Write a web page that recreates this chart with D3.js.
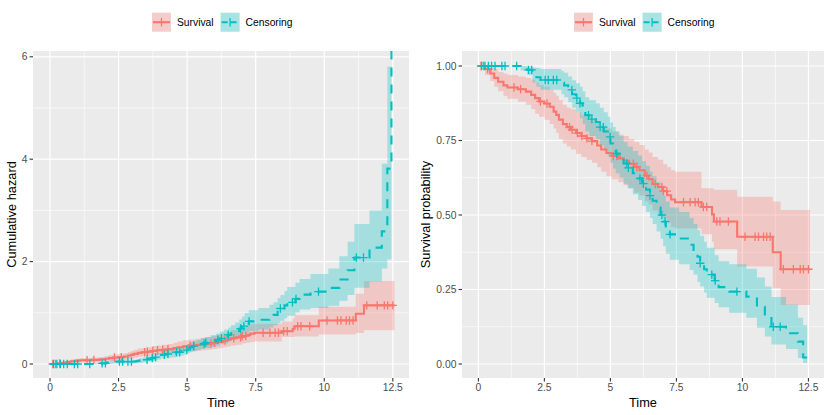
<!DOCTYPE html>
<html>
<head>
<meta charset="utf-8">
<script src="https://cdn.jsdelivr.net/npm/d3@7"></script>
<style>
  body { margin: 0; background: #fff; }
  text { font-family: "Liberation Sans", Arial, Helvetica, sans-serif; }
</style>
</head>
<body>
<svg id="chart" width="830" height="415"></svg>
<script>
// Kaplan-Meier estimates (step times, estimate, 95% band)
var groupNames = ['Survival', 'Censoring'];

var survTime  = [0, 0.25, 0.45, 0.6, 0.75, 0.95, 1.1, 1.5, 1.8, 2.0, 2.15, 2.3, 2.5, 2.7, 2.85, 2.95, 3.05, 3.2, 3.35, 3.5, 3.7, 3.9, 4.1, 4.3, 4.5, 4.65, 4.85, 5.05, 5.3, 5.5, 5.7, 5.9, 6.1, 6.3, 6.45, 6.6, 6.8, 7.0, 7.15, 7.3, 7.45, 8.45, 8.85, 8.92, 9.8, 11.15, 11.45];
var survEst   = [1, 0.99, 0.975, 0.96, 0.947, 0.935, 0.928, 0.922, 0.914, 0.903, 0.892, 0.881, 0.874, 0.863, 0.847, 0.836, 0.82, 0.805, 0.795, 0.786, 0.775, 0.765, 0.757, 0.748, 0.733, 0.72, 0.708, 0.698, 0.69, 0.682, 0.672, 0.661, 0.65, 0.632, 0.62, 0.604, 0.594, 0.58, 0.566, 0.552, 0.543, 0.527, 0.502, 0.478, 0.427, 0.375, 0.318];
var survLower = [1, 0.97, 0.95, 0.93, 0.915, 0.9, 0.89, 0.88, 0.87, 0.855, 0.84, 0.83, 0.82, 0.805, 0.79, 0.775, 0.755, 0.74, 0.73, 0.72, 0.705, 0.695, 0.685, 0.675, 0.66, 0.645, 0.63, 0.62, 0.61, 0.6, 0.59, 0.575, 0.565, 0.545, 0.535, 0.515, 0.505, 0.49, 0.475, 0.46, 0.455, 0.435, 0.41, 0.385, 0.327, 0.254, 0.198];
var survUpper = [1, 1, 0.995, 0.99, 0.98, 0.975, 0.97, 0.965, 0.96, 0.955, 0.945, 0.935, 0.93, 0.92, 0.91, 0.9, 0.885, 0.87, 0.86, 0.855, 0.845, 0.835, 0.83, 0.82, 0.81, 0.8, 0.79, 0.78, 0.77, 0.765, 0.755, 0.745, 0.735, 0.72, 0.71, 0.695, 0.685, 0.67, 0.66, 0.65, 0.645, 0.59, 0.59, 0.585, 0.561, 0.545, 0.517];
var survEnd = 12.56;
var survCensor = [0.1, 0.2, 0.35, 1.35, 1.6, 2.35, 2.6, 3.45, 3.55, 3.75, 3.92, 4.11, 4.3, 5.11, 5.24, 5.87, 6.0, 6.38, 6.7, 6.95, 7.01, 7.14, 7.77, 8.02, 8.21, 8.33, 8.52, 8.65, 9.03, 9.15, 9.47, 10.1, 10.48, 10.61, 10.8, 10.92, 11.05, 11.55, 11.93, 12.19, 12.31, 12.5];

var censTime  = [0, 1.6, 1.85, 2.05, 2.2, 2.35, 3.15, 3.25, 3.4, 3.55, 3.7, 3.85, 3.95, 4.05, 4.2, 4.45, 4.6, 4.75, 4.9, 5.0, 5.1, 5.2, 5.35, 5.5, 5.65, 5.85, 6.05, 6.2, 6.35, 6.5, 6.6, 6.75, 6.9, 7.0, 7.1, 7.25, 7.6, 8.0, 8.15, 8.3, 8.4, 8.55, 8.65, 8.95, 9.1, 9.5, 10.15, 10.55, 10.85, 11.1, 11.65, 12.1, 12.3];
var censEst   = [1, 0.994, 0.987, 0.972, 0.962, 0.953, 0.944, 0.935, 0.92, 0.905, 0.892, 0.875, 0.86, 0.835, 0.822, 0.812, 0.795, 0.78, 0.762, 0.74, 0.722, 0.706, 0.69, 0.673, 0.658, 0.64, 0.623, 0.605, 0.585, 0.565, 0.548, 0.525, 0.5, 0.478, 0.455, 0.435, 0.421, 0.4, 0.383, 0.36, 0.338, 0.318, 0.3, 0.28, 0.258, 0.243, 0.226, 0.192, 0.16, 0.125, 0.103, 0.075, 0.022];
var censLower = [1, 0.985, 0.97, 0.945, 0.93, 0.92, 0.905, 0.895, 0.878, 0.86, 0.845, 0.825, 0.805, 0.78, 0.765, 0.755, 0.735, 0.72, 0.7, 0.675, 0.655, 0.64, 0.625, 0.605, 0.59, 0.57, 0.55, 0.53, 0.51, 0.49, 0.47, 0.445, 0.42, 0.395, 0.37, 0.35, 0.335, 0.315, 0.3, 0.275, 0.26, 0.24, 0.222, 0.205, 0.19, 0.172, 0.155, 0.122, 0.092, 0.065, 0.05, 0.02, 0.003];
var censUpper = [1, 1, 0.998, 0.995, 0.993, 0.99, 0.983, 0.977, 0.965, 0.952, 0.942, 0.93, 0.915, 0.895, 0.885, 0.875, 0.86, 0.845, 0.83, 0.81, 0.795, 0.78, 0.765, 0.745, 0.73, 0.715, 0.7, 0.68, 0.665, 0.645, 0.63, 0.61, 0.585, 0.565, 0.545, 0.525, 0.51, 0.49, 0.47, 0.45, 0.43, 0.41, 0.39, 0.365, 0.345, 0.335, 0.32, 0.29, 0.26, 0.225, 0.2, 0.155, 0.13];
var censEnd = 12.45;
var censHazardEnd = Infinity; // last cumulative hazard step is infinite, drawn to the panel edge
var censCensor = [0.13, 0.25, 0.38, 0.5, 0.63, 0.89, 1.01, 1.45, 1.9, 2.02, 2.53, 2.65, 2.84, 2.97, 3.54, 3.73, 3.85, 4.17, 4.3, 4.61, 4.73, 4.99, 5.24, 5.62, 5.68, 6.12, 6.25, 6.5, 6.95, 7.07, 7.26, 8.4, 8.84, 8.97, 9.79, 11.17, 11.43];

var xTicks = [0, 2.5, 5, 7.5, 10, 12.5];
var xMinor = [1.25, 3.75, 6.25, 8.75, 11.25];
var hazTicks = [0, 2, 4, 6];
var hazMinor = [1, 3, 5];
var probTicks = [0, 0.25, 0.5, 0.75, 1];
var probMinor = [0.125, 0.375, 0.625, 0.875];

var colors = ['#F8766D', '#00BFC4'];

function buildSeries(time, est, lower, upper, end) {
  var pts = time.map(function (t, i) {
    return {t: t, s: est[i], lo: lower[i], hi: upper[i]};
  });
  var last = pts[pts.length - 1];
  pts.push({t: end, s: last.s, lo: last.lo, hi: last.hi});
  return pts;
}

var groups = [
  {name: groupNames[0], color: colors[0], dash: null,
   pts: buildSeries(survTime, survEst, survLower, survUpper, survEnd),
   censor: survCensor, hazEnd: null},
  {name: groupNames[1], color: colors[1], dash: '9,8',
   pts: buildSeries(censTime, censEst, censLower, censUpper, censEnd),
   censor: censCensor, hazEnd: censHazardEnd}
];

var svg = d3.select('#chart');

var panels = [
  {id: 'haz', x0: 33, x1: 409, y0: 51, y1: 378, yDomain: [-0.273, 6.113],
   ticks: hazTicks, minor: hazMinor, fmt: d3.format('d'),
   title: 'Cumulative hazard', titleX: 16,
   f: function (s) { return s >= 1 ? 0 : -Math.log(s); }},
  {id: 'prob', x0: 462, x1: 824, y0: 51, y1: 378, yDomain: [-0.047, 1.0503],
   ticks: probTicks, minor: probMinor, fmt: d3.format('.2f'),
   title: 'Survival probability', titleX: 430,
   f: function (s) { return s; }}
];

panels.forEach(function (p) {
  var x = d3.scaleLinear().domain([-0.62, 13.09]).range([p.x0, p.x1]);
  var y = d3.scaleLinear().domain(p.yDomain).range([p.y1, p.y0]).clamp(true);
  var g = svg.append('g');

  g.append('clipPath').attr('id', 'clip-' + p.id)
    .append('rect').attr('x', p.x0).attr('y', p.y0)
    .attr('width', p.x1 - p.x0).attr('height', p.y1 - p.y0);

  g.append('rect').attr('x', p.x0).attr('y', p.y0)
    .attr('width', p.x1 - p.x0).attr('height', p.y1 - p.y0)
    .attr('fill', '#EBEBEB');

  // grid
  var grid = g.append('g').attr('stroke', '#fff');
  grid.selectAll('.ymin').data(p.minor).enter().append('line')
    .attr('x1', p.x0).attr('x2', p.x1)
    .attr('y1', function (d) { return y(d); }).attr('y2', function (d) { return y(d); })
    .attr('stroke-width', 0.6);
  grid.selectAll('.xmin').data(xMinor).enter().append('line')
    .attr('y1', p.y0).attr('y2', p.y1)
    .attr('x1', function (d) { return x(d); }).attr('x2', function (d) { return x(d); })
    .attr('stroke-width', 0.6);
  grid.selectAll('.ymaj').data(p.ticks).enter().append('line')
    .attr('x1', p.x0).attr('x2', p.x1)
    .attr('y1', function (d) { return y(d); }).attr('y2', function (d) { return y(d); })
    .attr('stroke-width', 1.2);
  grid.selectAll('.xmaj').data(xTicks).enter().append('line')
    .attr('y1', p.y0).attr('y2', p.y1)
    .attr('x1', function (d) { return x(d); }).attr('x2', function (d) { return x(d); })
    .attr('stroke-width', 1.2);

  var plot = g.append('g').attr('clip-path', 'url(#clip-' + p.id + ')');

  var area = d3.area().curve(d3.curveStepAfter)
    .x(function (d) { return x(d.t); })
    .y0(function (d) { return y(p.f(d.hi)); })
    .y1(function (d) { return y(p.f(d.lo)); });

  groups.forEach(function (gr) {
    plot.append('path').datum(gr.pts)
      .attr('d', area)
      .attr('fill', gr.color).attr('fill-opacity', 0.3);
  });

  var line = d3.line().curve(d3.curveStepAfter)
    .x(function (d) { return x(d.t); })
    .y(function (d) { return y(d.v); });

  groups.forEach(function (gr) {
    var vals = gr.pts.map(function (d) { return {t: d.t, v: p.f(d.s)}; });
    if (p.id === 'haz' && gr.hazEnd !== null) vals[vals.length - 1].v = gr.hazEnd;
    plot.append('path').datum(vals)
      .attr('d', line)
      .attr('fill', 'none')
      .attr('stroke', gr.color)
      .attr('stroke-width', 2.1)
      .attr('stroke-dasharray', gr.dash);

    var times = gr.pts.map(function (d) { return d.t; });
    var marks = gr.censor.map(function (t) {
      var i = d3.bisectRight(times, t) - 1;
      return {t: t, v: p.f(gr.pts[i].s)};
    });
    var mk = plot.append('g').attr('stroke', gr.color).attr('stroke-width', 1.3);
    mk.selectAll('path').data(marks).enter().append('path')
      .attr('d', function (d) {
        var cx = x(d.t), cy = y(d.v), r = 4.2;
        return 'M' + (cx - r) + ',' + cy + 'H' + (cx + r) + 'M' + cx + ',' + (cy - r) + 'V' + (cy + r);
      });
  });

  // axes
  var ax = g.append('g');
  ax.selectAll('.yt').data(p.ticks).enter().append('line')
    .attr('x1', p.x0 - 3.4).attr('x2', p.x0)
    .attr('y1', function (d) { return y(d); }).attr('y2', function (d) { return y(d); })
    .attr('stroke', '#333').attr('stroke-width', 1.1);
  ax.selectAll('.yl').data(p.ticks).enter().append('text')
    .attr('x', p.x0 - 5.6).attr('y', function (d) { return y(d) + 3.7; })
    .attr('text-anchor', 'end').attr('font-size', 10.3).attr('fill', '#4D4D4D')
    .text(function (d) { return p.fmt(d); });
  ax.selectAll('.xt').data(xTicks).enter().append('line')
    .attr('y1', p.y1).attr('y2', p.y1 + 3.4)
    .attr('x1', function (d) { return x(d); }).attr('x2', function (d) { return x(d); })
    .attr('stroke', '#333').attr('stroke-width', 1.1);
  ax.selectAll('.xl').data(xTicks).enter().append('text')
    .attr('x', function (d) { return x(d); }).attr('y', p.y1 + 13.3)
    .attr('text-anchor', 'middle').attr('font-size', 10.3).attr('fill', '#4D4D4D')
    .text(function (d) { return String(d); });

  var cx = (p.x0 + p.x1) / 2;
  g.append('text').attr('x', cx).attr('y', 406.5)
    .attr('text-anchor', 'middle').attr('font-size', 12.8).attr('fill', '#000')
    .text('Time');
  g.append('text')
    .attr('transform', 'translate(' + p.titleX + ',' + ((p.y0 + p.y1) / 2) + ') rotate(-90)')
    .attr('text-anchor', 'middle').attr('font-size', 12.8).attr('fill', '#000')
    .text(p.title);

  // legend centred over the panel
  var leg = g.append('g');
  var key = 19, ky = 12.7;
  var labels = groups.map(function (gr) {
    return leg.append('text').attr('font-size', 10.3).attr('fill', '#000')
      .attr('y', ky + key / 2 + 3.7).text(gr.name);
  });
  var widths = labels.map(function (t) { return t.node().getComputedTextLength(); });
  var total = key + 6 + widths[0] + 7 + key + 6.5 + widths[1];
  var lx = cx + 1.5 - total / 2;
  groups.forEach(function (gr, i) {
    leg.append('rect').attr('x', lx).attr('y', ky).attr('width', key).attr('height', key)
      .attr('fill', '#F2F2F2');
    leg.append('rect').attr('x', lx).attr('y', ky).attr('width', key).attr('height', key)
      .attr('fill', gr.color).attr('fill-opacity', 0.3);
    leg.append('line').attr('x1', lx + 1).attr('x2', lx + key - 1)
      .attr('y1', ky + key / 2).attr('y2', ky + key / 2)
      .attr('stroke', gr.color).attr('stroke-width', 2.1)
      .attr('stroke-dasharray', gr.dash ? '6,3' : null);
    leg.append('path')
      .attr('d', 'M' + (lx + key / 2) + ',' + (ky + key / 2 - 4.2) + 'V' + (ky + key / 2 + 4.2))
      .attr('stroke', gr.color).attr('stroke-width', 1.3);
    labels[i].attr('x', lx + key + 6);
    lx += key + 6 + widths[i] + (i === 0 ? 7 : 0);
  });
});
</script>
</body>
</html>
